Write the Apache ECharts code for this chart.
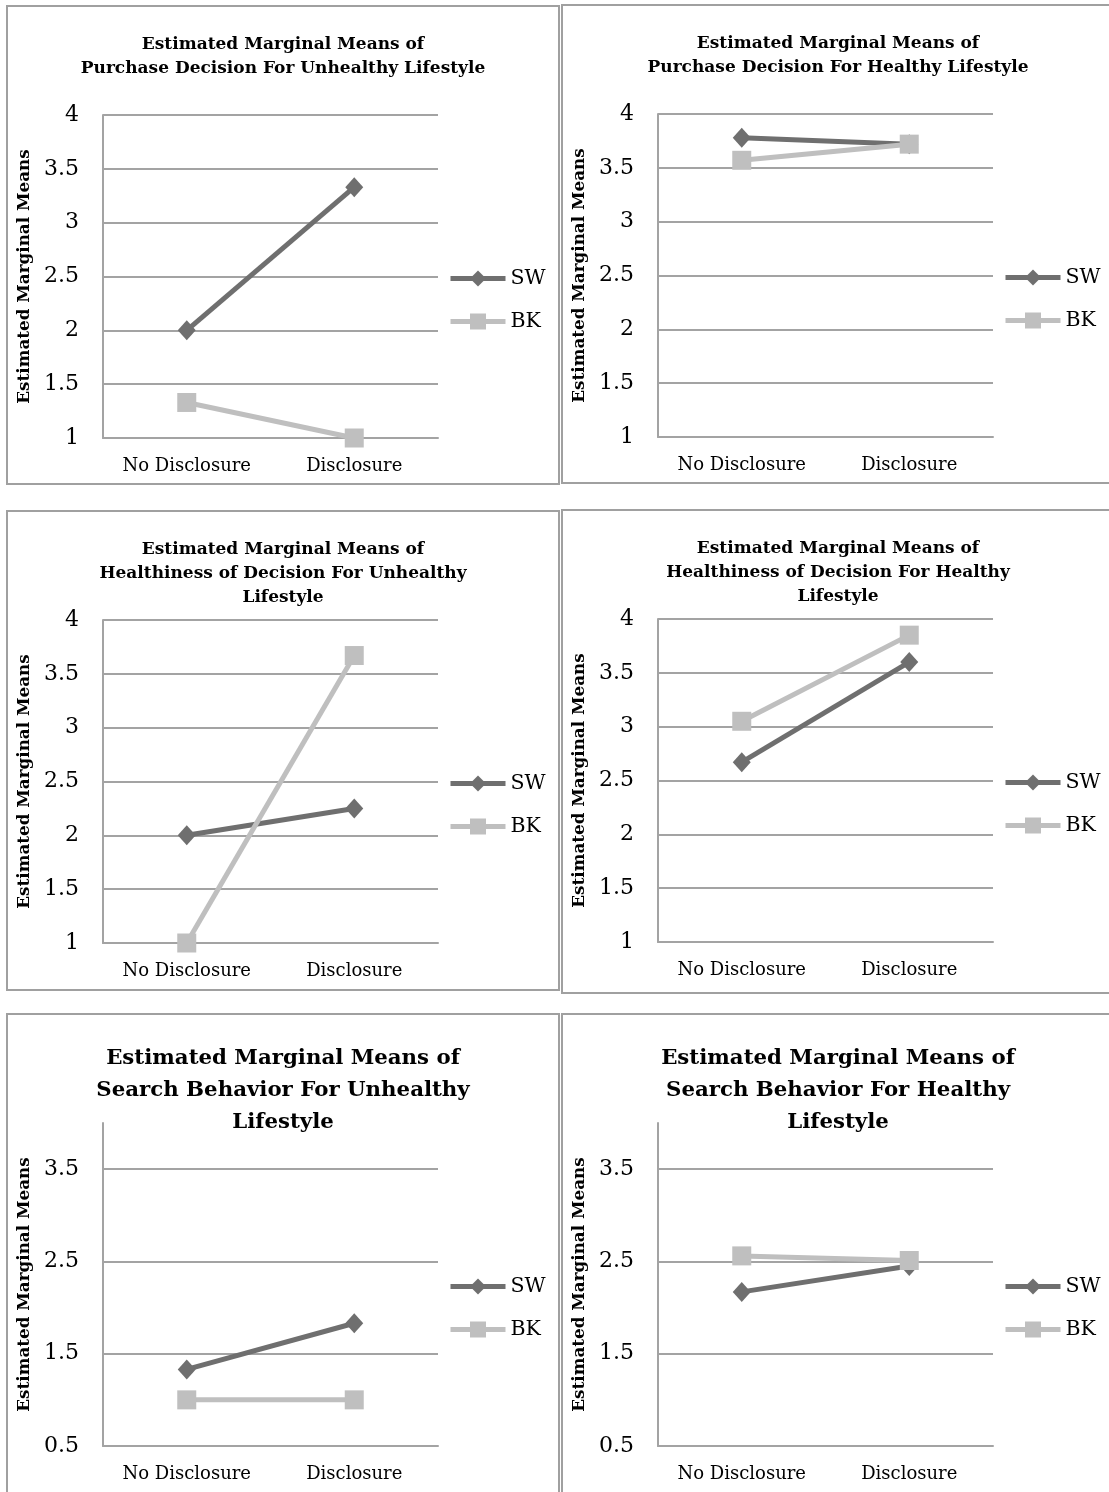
<!DOCTYPE html>
<html>
<head>
<meta charset="utf-8">
<script src="https://cdn.jsdelivr.net/npm/echarts@6/dist/echarts.min.js"></script>
<style>
  html, body { margin: 0; padding: 0; background: #fff; overflow: hidden; width: 1109px; height: 1492px; position: relative; }
  .frame { position: absolute; box-sizing: border-box; border: 2px solid #a0a0a0; }
  .chart { position: absolute; }
</style>
</head>
<body>
<script>
// Factor levels on the x axis and the two groups compared
const categories = ['No Disclosure', 'Disclosure'];
const groupNames = ['SW', 'BK'];

// Estimated marginal means, one pair of values per group
const purchaseUnhealthySW = [2.00, 3.33];
const purchaseUnhealthyBK = [1.33, 1.00];
const purchaseHealthySW = [3.78, 3.72];
const purchaseHealthyBK = [3.57, 3.72];
const healthinessUnhealthySW = [2.00, 2.25];
const healthinessUnhealthyBK = [1.00, 3.67];
const healthinessHealthySW = [2.67, 3.60];
const healthinessHealthyBK = [3.05, 3.85];
const searchUnhealthySW = [1.33, 1.83];
const searchUnhealthyBK = [1.00, 1.00];
const searchHealthySW = [2.17, 2.45];
const searchHealthyBK = [2.56, 2.51];

// Chart titles
const titles = [
  'Estimated Marginal Means of\nPurchase Decision For Unhealthy Lifestyle',
  'Estimated Marginal Means of\nPurchase Decision For Healthy Lifestyle',
  'Estimated Marginal Means of\nHealthiness of Decision For Unhealthy\nLifestyle',
  'Estimated Marginal Means of\nHealthiness of Decision For Healthy\nLifestyle',
  'Estimated Marginal Means of\nSearch Behavior For Unhealthy\nLifestyle',
  'Estimated Marginal Means of\nSearch Behavior For Healthy\nLifestyle'
];
const yAxisName = 'Estimated Marginal Means';

// Value-axis ranges: [min, max, step]
const ratingScale = [1, 4, 0.5];
const searchScale = [0.5, 4, 1];

const panels = [
  { title: titles[0], sw: purchaseUnhealthySW, bk: purchaseUnhealthyBK, scale: ratingScale },
  { title: titles[1], sw: purchaseHealthySW, bk: purchaseHealthyBK, scale: ratingScale },
  { title: titles[2], sw: healthinessUnhealthySW, bk: healthinessUnhealthyBK, scale: ratingScale },
  { title: titles[3], sw: healthinessHealthySW, bk: healthinessHealthyBK, scale: ratingScale },
  { title: titles[4], sw: searchUnhealthySW, bk: searchUnhealthyBK, scale: searchScale, big: true },
  { title: titles[5], sw: searchHealthySW, bk: searchHealthyBK, scale: searchScale, big: true }
];

// Page placement of each framed chart: [left, top, width, height]
const frames = [
  [6, 5, 554, 480],
  [561, 4, 560, 480],
  [6, 510, 554, 481],
  [561, 509, 560, 485],
  [6, 1013, 554, 500],
  [561, 1013, 560, 500]
];

const FONT = 'DejaVu Serif';
const GRID_COLOR = '#a3a3a3';
const SW_COLOR = '#6f6f6f';
const BK_COLOR = '#bfbfbf';

panels.forEach((p, i) => {
  const [l, t, w, h] = frames[i];
  const frame = document.createElement('div');
  frame.className = 'frame';
  Object.assign(frame.style, { left: l + 'px', top: t + 'px', width: w + 'px', height: h + 'px' });
  document.body.appendChild(frame);

  const el = document.createElement('div');
  el.className = 'chart';
  const cw = Math.min(w, 554);
  Object.assign(el.style, { left: l + 'px', top: t + 'px', width: cw + 'px', height: h + 'px' });
  document.body.appendChild(el);

  const chart = echarts.init(el, null, { renderer: 'canvas' });
  const [ymin, ymax, ystep] = p.scale;
  chart.setOption({
    animation: false,
    backgroundColor: 'transparent',
    title: {
      text: p.title,
      left: 'center',
      top: p.big ? 29 : 28,
      padding: 0,
      textStyle: {
        fontFamily: FONT,
        fontWeight: 'bold',
        fontSize: p.big ? 21.3 : 17,
        lineHeight: p.big ? 32 : 24,
        color: '#000'
      }
    },
    grid: { left: 97, top: 110, width: 335, height: 323 },
    legend: {
      data: groupNames,
      orient: 'vertical',
      left: 442,
      top: 263,
      itemWidth: 55,
      itemHeight: 20,
      itemGap: 22,
      selectedMode: false,
      padding: 0,
      lineStyle: { width: 5 },
      textStyle: { fontFamily: FONT, fontSize: 20.5, color: '#000' }
    },
    xAxis: {
      type: 'category',
      data: categories,
      boundaryGap: true,
      axisTick: { show: false },
      axisLine: { show: true, lineStyle: { color: GRID_COLOR, width: 2 } },
      axisLabel: { margin: 19, fontFamily: FONT, fontSize: 18, color: '#000' }
    },
    yAxis: {
      type: 'value',
      min: ymin,
      max: ymax,
      interval: ystep,
      name: yAxisName,
      nameLocation: 'middle',
      nameGap: 66,
      nameTextStyle: { fontFamily: FONT, fontWeight: 'bold', fontSize: 16.8, color: '#000' },
      axisLine: { show: true, lineStyle: { color: GRID_COLOR, width: 2 } },
      axisTick: { show: false },
      axisLabel: {
        margin: 24,
        fontFamily: FONT,
        fontSize: 22,
        color: '#000',
        showMaxLabel: !p.big
      },
      splitLine: {
        show: true,
        showMaxLine: !p.big,
        lineStyle: { color: GRID_COLOR, width: 2 }
      }
    },
    series: [
      {
        name: groupNames[0],
        type: 'line',
        data: p.sw,
        symbol: 'diamond',
        symbolSize: [18, 20],
        lineStyle: { color: SW_COLOR, width: 5 },
        itemStyle: { color: SW_COLOR }
      },
      {
        name: groupNames[1],
        type: 'line',
        data: p.bk,
        symbol: 'rect',
        symbolSize: 19,
        lineStyle: { color: BK_COLOR, width: 5 },
        itemStyle: { color: BK_COLOR }
      }
    ]
  });
});
</script>
</body>
</html>
